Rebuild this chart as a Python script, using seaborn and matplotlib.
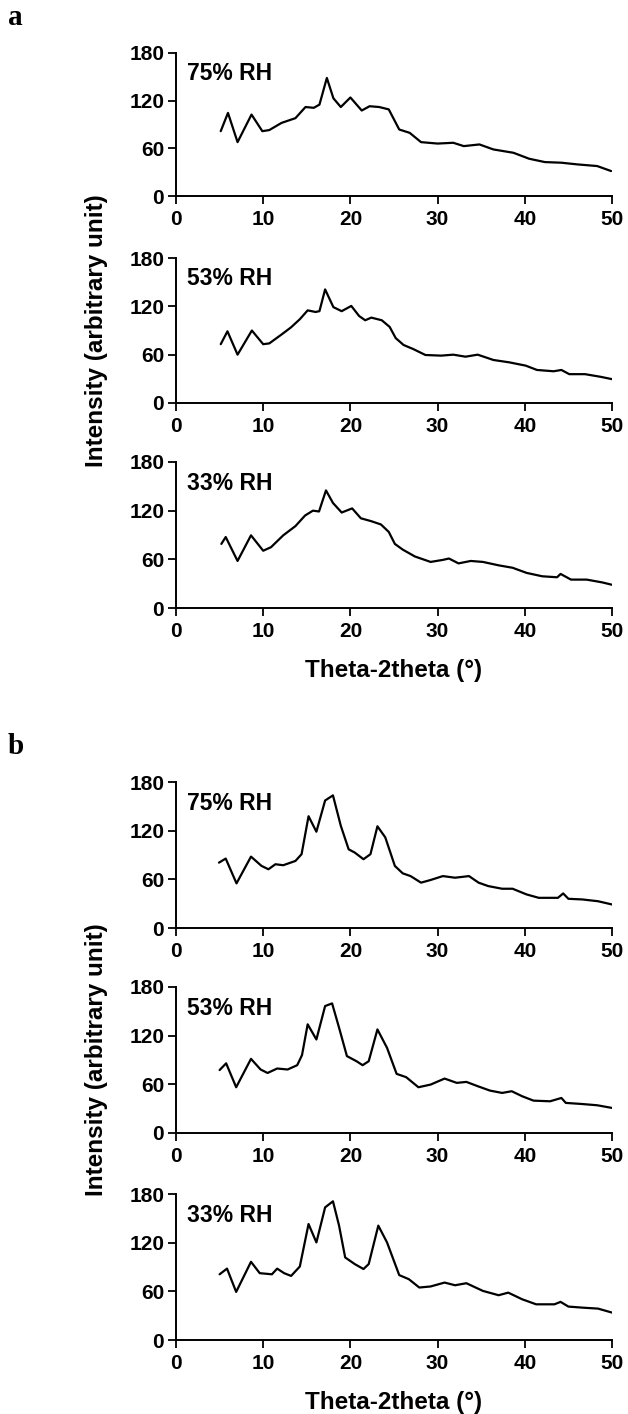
import matplotlib
matplotlib.use("Agg")
import matplotlib.pyplot as plt
import seaborn as sns

# ---------------- data ----------------
rh_labels = ["75% RH", "53% RH", "33% RH"]
x_ticks = [0, 10, 20, 30, 40, 50]
y_ticks = [0, 60, 120, 180]

# panel a
a75_x = [5.13, 5.96, 7.06, 8.66, 9.9, 10.7, 12.1, 13.7, 14.85, 15.8, 16.45, 17.3, 18.05, 18.9, 20.0, 21.3, 22.2,
         23.3, 24.4, 25.6, 26.8, 28.1, 30.0, 31.8, 33.0, 34.8, 36.4, 38.7, 40.5, 42.3, 44.2, 46.0, 48.3, 49.9]
a75_y = [81.6, 104.6, 67.8, 102.5, 81.6, 83, 92, 98, 112, 111, 115, 148.6, 123, 112, 124, 107.6, 113,
         112, 109, 83.7, 79.5, 67.8, 66, 67, 62.8, 64.9, 58.6, 54.4, 46.9, 42.7, 41.9, 39.8, 37.7, 31.4]

a53_x = [5.13, 5.9, 7.06, 8.7, 10.0, 10.7, 12.1, 13.2, 14.2, 15.1, 16.0, 16.45, 17.1, 18.05, 19.0, 20.1, 21.0,
         21.7, 22.4, 23.6, 24.5, 25.2, 26.1, 27.2, 28.6, 30.4, 31.8, 33.2, 34.6, 36.4, 38.2, 40.1, 41.4, 43.3,
         44.2, 45.1, 46.9, 48.7, 50.0]
a53_y = [73, 89, 60, 90, 73, 74, 85, 94, 104, 115, 113, 114, 141, 119, 114, 120.5, 108,
         102.7, 106, 102.7, 94.5, 80.5, 72, 67, 59.6, 58.8, 60, 57.5, 60, 53.4, 50.5, 46.4, 41, 39.4,
         41, 35.8, 35.8, 32.5, 29.6]

a33_x = [5.2, 5.7, 7.06, 8.6, 10.0, 10.9, 12.3, 13.7, 14.8, 15.7, 16.4, 17.2, 18.0, 19.0, 20.2, 21.2, 22.4,
         23.5, 24.4, 25.1, 26.0, 27.4, 29.2, 30.6, 31.3, 32.4, 33.8, 35.2, 37.0, 38.6, 40.2, 42.0, 43.7,
         44.1, 45.3, 47.1, 48.9, 50.0]
a33_y = [79, 87.5, 58, 89.6, 70.6, 75, 89.6, 101, 114, 120, 119, 145, 129.5, 117.7, 122.8, 110.6, 107,
         103, 93.8, 79, 72, 63.5, 56.8, 59.3, 61, 55, 58, 56.8, 52.6, 49.6, 43.3, 39.1, 37.9,
         42, 35, 35, 31.5, 28.6]

# panel b
b75_x = [4.93, 5.7, 6.94, 8.6, 9.8, 10.6, 11.4, 12.3, 13.7, 14.4, 15.2, 16.1, 17.1, 18.0, 18.9, 19.8, 20.5,
         21.5, 22.3, 23.1, 24.0, 25.1, 26.0, 26.9, 28.1, 29.2, 30.6, 32.0, 33.6, 34.7, 35.8, 37.4, 38.6,
         40.2, 41.6, 43.8, 44.4, 45.0, 46.6, 48.4, 50.0]
b75_y = [80.6, 85.6, 55, 88, 76.6, 72.4, 78.6, 77.4, 82.7, 91, 137.8, 118.7, 157.2, 163.5, 126, 97, 93,
         84.8, 91, 125.4, 111.7, 76.5, 67.4, 64, 55.9, 59.2, 64, 62, 64, 55.9, 51.7, 48.4, 48.4,
         41.4, 37.2, 37.2, 42.6, 36, 35.2, 33, 29]

b53_x = [5.0, 5.75, 6.9, 8.6, 9.7, 10.5, 11.6, 12.8, 13.9, 14.45, 15.1, 16.1, 17.1, 17.9, 18.7, 19.6, 20.7,
         21.4, 22.1, 23.1, 24.2, 25.3, 26.4, 27.8, 29.2, 30.8, 32.2, 33.3, 34.6, 36.0, 37.4, 38.5, 39.7,
         41.0, 42.9, 44.2, 44.7, 46.5, 48.3, 50.0]
b53_y = [77.6, 85.9, 56.4, 91.4, 78.3, 74, 79.5, 78.3, 83.6, 96, 134, 115.3, 156.5, 159.8, 129.8, 94.8, 88.5,
         83.6, 88.5, 127.7, 105, 72.9, 68.8, 56.4, 59.7, 67.1, 61.8, 63, 57.7, 52.3, 49.4, 51.5, 45.3,
         39.9, 39.1, 43.2, 37.1, 35.8, 34.2, 30.9]

b33_x = [5.0, 5.85, 6.9, 8.6, 9.6, 11.0, 11.6, 12.4, 13.2, 14.2, 15.2, 16.1, 17.1, 18.0, 18.7, 19.4, 20.5,
         21.5, 22.1, 23.2, 24.2, 25.6, 26.7, 27.9, 29.2, 30.8, 32.0, 33.3, 35.2, 37.0, 38.1, 39.7, 41.3,
         43.4, 44.1, 45.0, 46.6, 48.4, 50.0]
b33_y = [81, 88, 59.3, 96.4, 82.4, 81, 88, 82.4, 79, 90.6, 143, 120.3, 163.5, 171, 141, 101.8, 93.6,
         87.5, 93.6, 141, 120.3, 80, 75, 64.7, 66, 70.8, 67.5, 70, 60.5, 55.2, 58.4, 50.2, 44,
         44, 47, 41.2, 39.9, 38.7, 33.8]

panels = {
    "a": [(a75_x, a75_y), (a53_x, a53_y), (a33_x, a33_y)],
    "b": [(b75_x, b75_y), (b53_x, b53_y), (b33_x, b33_y)],
}

# ---------------- style ----------------
sns.set_style("ticks")
plt.rcParams["font.family"] = ["Liberation Sans", "DejaVu Sans"]
plt.rcParams["font.weight"] = "bold"
for k in ["text.color", "axes.labelcolor", "xtick.color", "ytick.color", "axes.edgecolor"]:
    plt.rcParams[k] = "black"

W, H = 628, 1414
fig = plt.figure(figsize=(W / 100, H / 100), dpi=100)

left_px, right_px = 176, 612
# (top_px, bottom_px) of each axes
axes_px = {
    "a": [(53, 196), (258, 403), (462, 608)],
    "b": [(782, 928), (987, 1133), (1194, 1340)],
}

for key in ["a", "b"]:
    for (top, bot), (xs, ys), lab in zip(axes_px[key], panels[key], rh_labels):
        ax = fig.add_axes([left_px / W, 1 - bot / H, (right_px - left_px) / W, (bot - top) / H])
        sns.lineplot(x=xs, y=ys, ax=ax, color="black", linewidth=1.6, sort=False)
        ax.set_xlim(0, 50)
        ax.set_ylim(0, 180)
        ax.set_xticks(x_ticks)
        ax.set_yticks(y_ticks)
        ax.tick_params(axis="both", direction="out", length=5.5, width=1.3,
                       labelsize=15, color="black", labelcolor="black")
        ax.tick_params(axis="x", pad=4.5)
        ax.tick_params(axis="y", pad=3)
        for lbl in ax.get_xticklabels() + ax.get_yticklabels():
            lbl.set_fontweight("bold")
        sns.despine(ax=ax)
        for s in ["left", "bottom"]:
            ax.spines[s].set_linewidth(1.4)
            ax.spines[s].set_color("black")
        ax.text(1.25, 146, lab, fontsize=16.5, fontweight="bold", ha="left", va="baseline",
                color="black")

    mid_top, mid_bot = axes_px[key][1]
    fig.text(97 / W, 1 - (mid_top + mid_bot) / 2 / H, "Intensity (arbitrary unit)",
             rotation=90, ha="center", va="center", fontsize=17.5, fontweight="bold", color="black")
    bot_px = axes_px[key][2][1]
    fig.text((left_px + right_px) / 2 / W, 1 - (bot_px + 62) / H, "Theta-2theta (°)",
             ha="center", va="center", fontsize=17.5, fontweight="bold", color="black")
    first_top = axes_px[key][0][0]
    fig.text(8 / W, 1 - (first_top - 28) / H, key, ha="left", va="baseline", color="black",
             fontsize=21, fontweight="bold", family=["Liberation Serif", "DejaVu Serif"])

fig.savefig("out.png", dpi=100)
